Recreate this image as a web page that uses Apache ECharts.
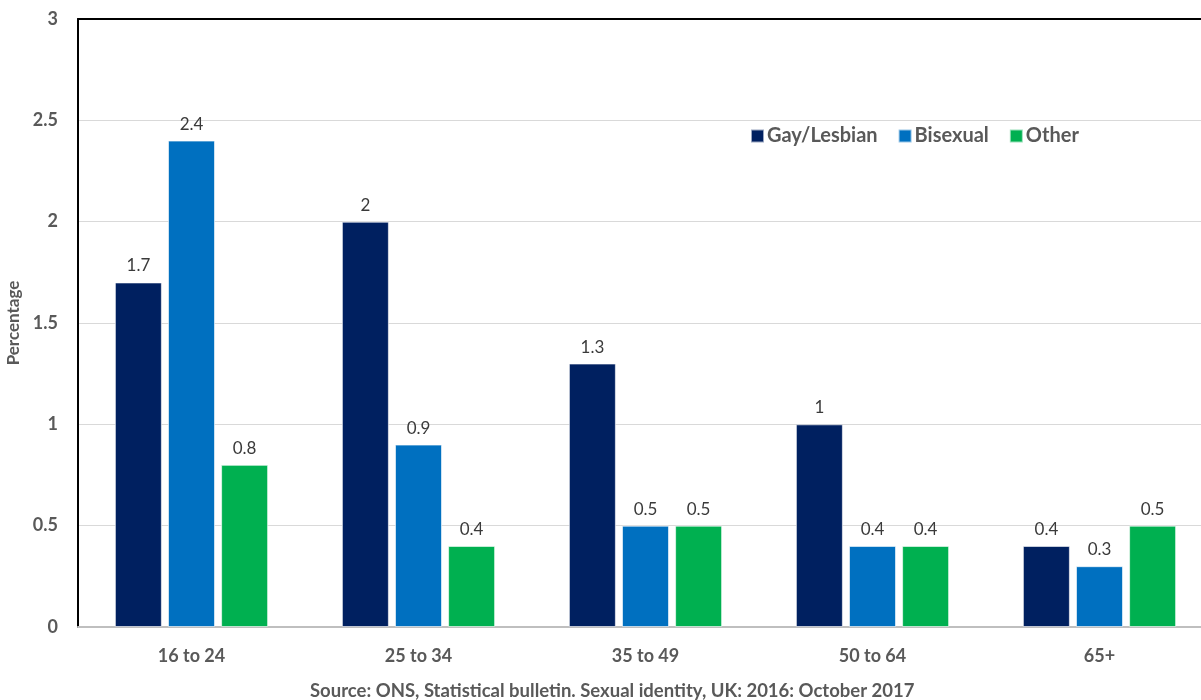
<!DOCTYPE html>
<html>
<head>
<meta charset="utf-8">
<script src="https://cdn.jsdelivr.net/npm/echarts@6/dist/echarts.min.js"></script>
<style>html,body{margin:0;padding:0;background:#fff}#c{width:1201px;height:700px}</style>
</head>
<body>
<div id="c"></div>
<script>
const categories = ['16 to 24', '25 to 34', '35 to 49', '50 to 64', '65+'];
const gayLesbian = [1.7, 2.0, 1.3, 1.0, 0.4];
const bisexual = [2.4, 0.9, 0.5, 0.4, 0.3];
const other = [0.8, 0.4, 0.5, 0.4, 0.5];
const seriesNames = ['Gay/Lesbian', 'Bisexual', 'Other'];
const sourceText = 'Source: ONS, Statistical bulletin. Sexual identity, UK: 2016: October 2017';

const FONT = 'Lato';
const chart = echarts.init(document.getElementById('c'));
const label = { show: true, position: 'top', distance: 8, color: '#3a3a3a', fontSize: 17, fontFamily: FONT };
const mk = (name, data, color) => ({
  name, type: 'bar', data, barWidth: 47, barGap: '13%',
  itemStyle: { color, borderColor: 'rgba(255,255,255,0.6)', borderWidth: 1 },
  label
});
chart.setOption({
  animation: false,
  textStyle: { fontFamily: FONT },
  grid: { left: 78, right: -12, top: 19, bottom: 73, containLabel: false, outerBoundsMode: 'none' },
  legend: {
    data: seriesNames, left: 745, top: 121, itemWidth: 13, itemHeight: 13, itemGap: 20,
    icon: 'rect',
    textStyle: { color: '#595959', fontSize: 20, fontWeight: 'bold', fontFamily: FONT, padding: [0, 0, 0, -2] }
  },
  title: {
    text: sourceText, left: 305, top: 677,
    textStyle: { color: '#595959', fontSize: 18.5, fontWeight: 'bold', fontFamily: FONT }
  },
  xAxis: [{
    type: 'category', data: categories,
    axisLine: { lineStyle: { color: '#bfbfbf', width: 2 } },
    axisTick: { show: false },
    axisLabel: { color: '#595959', fontSize: 18, fontWeight: 'bold', margin: 20, fontFamily: FONT }
  }, {
    type: 'category', data: categories, position: 'top',
    axisLine: { show: true, lineStyle: { color: '#000', width: 2 } },
    axisTick: { show: false }, axisLabel: { show: false }
  }],
  yAxis: {
    type: 'value', min: 0, max: 3, interval: 0.5,
    name: 'Percentage', nameLocation: 'middle', nameGap: 56, nameRotate: 90,
    nameTextStyle: { color: '#595959', fontSize: 17, fontWeight: 'bold', fontFamily: FONT },
    axisLine: { show: true, lineStyle: { color: '#000', width: 2 } },
    axisTick: { show: false },
    axisLabel: { color: '#595959', fontSize: 18, fontWeight: 'bold', margin: 20, fontFamily: FONT },
    splitLine: { lineStyle: { color: '#d9d9d9', width: 1 } }
  },
  series: [
    mk(seriesNames[0], gayLesbian, '#002060'),
    mk(seriesNames[1], bisexual, '#0070c0'),
    mk(seriesNames[2], other, '#00b050')
  ]
});
</script>
</body>
</html>
